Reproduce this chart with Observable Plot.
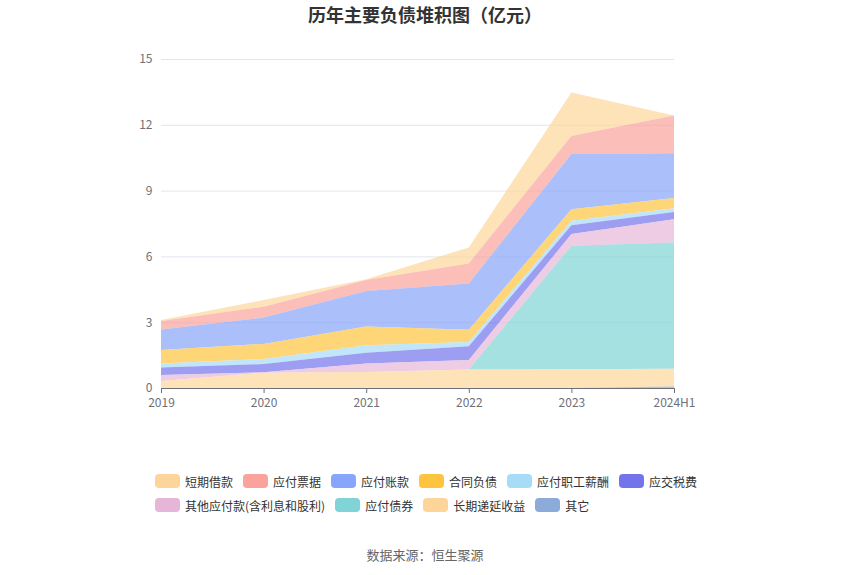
<!DOCTYPE html>
<html>
<head>
<meta charset="utf-8">
<script src="https://cdn.jsdelivr.net/npm/d3@7"></script>
<script src="https://cdn.jsdelivr.net/npm/@observablehq/plot@0.6"></script>
<style>
  html, body { margin: 0; padding: 0; background: #fff; }
  body { width: 850px; height: 575px; position: relative; overflow: hidden;
         font-family: "Noto Sans CJK SC", "Noto Sans", sans-serif; }
  #title { position: absolute; top: 1px; left: 0; width: 850px; text-align: center;
           font-size: 18px; font-weight: bold; color: #333; }
  #chart { position: absolute; top: 35px; left: 0; }
  #legend { position: absolute; top: 469px; left: 155px; }
  .row { display: flex; height: 24px; align-items: center; }
  .item { display: flex; align-items: center; margin-right: 10px; font-size: 12px; color: #333; }
  .sw { width: 25px; height: 14px; border-radius: 4px; margin-right: 5px; }
  #source { position: absolute; top: 545px; left: 0; width: 850px; text-align: center;
            font-size: 13px; color: #666; }
</style>
</head>
<body>
<div id="title">历年主要负债堆积图（亿元）</div>
<div id="chart"></div>
<div id="legend"></div>
<div id="source">数据来源：恒生聚源</div>
<script>
const years = ["2019", "2020", "2021", "2022", "2023", "2024H1"];
const seriesNames = ["短期借款", "应付票据", "应付账款", "合同负债", "应付职工薪酬", "应交税费",
  "其他应付款(含利息和股利)", "应付债券", "长期递延收益", "其它"];
const seriesColors = ["#fdd59a", "#f9a39a", "#87a5fa", "#fec43f", "#a6dcf8", "#7374ec",
  "#e6b6d8", "#80d4d6", "#fdd59a", "#8cabd9"];

const 短期借款 = [0.05, 0.30, 0.04, 0.73, 1.98, 0];
const 应付票据 = [0.38, 0.50, 0.50, 0.91, 0.82, 1.72];
const 应付账款 = [0.94, 1.20, 1.62, 2.11, 2.52, 2.04];
const 合同负债 = [0.61, 0.69, 0.85, 0.56, 0.52, 0.47];
const 应付职工薪酬 = [0.18, 0.23, 0.34, 0.20, 0.21, 0.16];
const 应交税费 = [0.35, 0.37, 0.49, 0.62, 0.40, 0.34];
const 其他应付款 = [0.27, 0.02, 0.39, 0.44, 0.53, 1.06];
const 应付债券 = [0, 0, 0, 0, 5.64, 5.75];
const 长期递延收益 = [0.32, 0.70, 0.73, 0.84, 0.85, 0.81];
const 其它 = [0, 0, 0, 0, 0, 0.07];

const yTicks = [0, 3, 6, 9, 12, 15];

const seriesValues = [短期借款, 应付票据, 应付账款, 合同负债, 应付职工薪酬, 应交税费,
  其他应付款, 应付债券, 长期递延收益, 其它];

const rows = [];
seriesNames.forEach((name, si) => {
  seriesValues[si].forEach((v, i) => rows.push({series: name, xi: i, value: v}));
});

// bottom-first stacking order (reverse of legend)
const stackOrder = seriesNames.slice().reverse();

const chart = Plot.plot({
  width: 850,
  height: 385,
  marginLeft: 161,
  marginRight: 176,
  marginTop: 24,
  marginBottom: 32,
  style: {fontFamily: "'Noto Sans CJK SC', 'Noto Sans', sans-serif", fontSize: "12px", color: "#6e7079", background: "#fff"},
  x: {type: "linear", domain: [0, years.length - 1], ticks: years.map((d, i) => i),
      tickFormat: i => years[i], label: null},
  y: {domain: [0, 15], ticks: yTicks, label: null},
  color: {domain: seriesNames, range: seriesColors},
  marks: [
    Plot.gridY(yTicks, {stroke: "#e0e6f1", strokeOpacity: 1}),
    Plot.areaY(rows, Plot.stackY({
      x: "xi", y: "value", z: "series", fill: "series", fillOpacity: 0.7,
      order: stackOrder
    })),
    Plot.axisY(yTicks, {tickSize: 0, tickPadding: 9, fill: "#6e7079", fontSize: 12}),
    Plot.axisX(years.map((d, i) => i), {tickFormat: i => years[i], tickSize: 5, tickPadding: 5,
      stroke: "#6e7079", fill: "#6e7079", fontSize: 12}),
    Plot.ruleY([0], {stroke: "#6e7079", strokeWidth: 1})
  ]
});
document.getElementById("chart").appendChild(chart);

// legend
const legend = document.getElementById("legend");
[[0, 6], [6, 10]].forEach(([a, b]) => {
  const row = document.createElement("div");
  row.className = "row";
  for (let i = a; i < b; i++) {
    const item = document.createElement("div");
    item.className = "item";
    const sw = document.createElement("div");
    sw.className = "sw";
    sw.style.background = seriesColors[i];
    const t = document.createElement("span");
    t.textContent = seriesNames[i];
    item.appendChild(sw);
    item.appendChild(t);
    row.appendChild(item);
  }
  legend.appendChild(row);
});
</script>
</body>
</html>
